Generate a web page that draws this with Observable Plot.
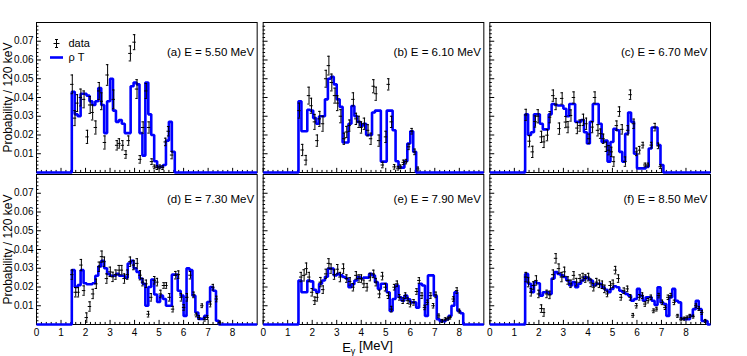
<!DOCTYPE html>
<html><head><meta charset="utf-8">
<script src="https://cdn.jsdelivr.net/npm/d3@7"></script>
<script src="https://cdn.jsdelivr.net/npm/@observablehq/plot@0.6"></script>
<style>html,body{margin:0;padding:0;background:#fff;} #chart{width:747px;height:356px;}</style>
</head><body><div id="chart"></div>
<script>
// ---------- data ----------
const panels = ["a", "b", "c", "d", "e", "f"];
const panelLabels = ["(a) E = 5.50 MeV", "(b) E = 6.10 MeV", "(c) E = 6.70 MeV",
                     "(d) E = 7.30 MeV", "(e) E = 7.90 MeV", "(f) E = 8.50 MeV"];
const panelCol = [0, 1, 2, 0, 1, 2];
const panelRow = [0, 0, 0, 1, 1, 1];
const binStart = 1.44;   // MeV, first non-empty bin edge
const binWidth = 0.12;   // 120 keV
const xMax = 9;
const yMax = 0.08;
const xTicks = [0, 1, 2, 3, 4, 5, 6, 7, 8];
const yTicks = [0.01, 0.02, 0.03, 0.04, 0.05, 0.06, 0.07];
const seriesNames = ["data", "ρ T"];

// rho T histograms (per 120 keV bin, starting at binStart)
const histA = [0.043,0.031,0.030,0.042,0.042,0.041,0.038,0.036,0.038,0.045,0.036,0.021,0.038,0.050,0.033,0.027,0.028,0.026,0.021,0.021,0.046,0.048,0.047,0.021,0.009,0.048,0.031,0.020,0.006,0.003,0.003,0.004,0.017,0.027,0.011];
const histB = [0.038,0.022,0.022,0.0335,0.033,0.029,0.026,0.030,0.030,0.039,0.050,0.051,0.047,0.039,0.035,0.016,0.016,0.026,0.0355,0.030,0.027,0.025,0.026,0.020,0.020,0.032,0.033,0.033,0.0058,0.0058,0.033,0.033,0.0225,0.006,0.0026,0.0026,0.006,0.0155,0.022,0.011];
const histC = [0.031,0.020,0.0215,0.031,0.031,0.026,0.023,0.023,0.031,0.0365,0.036,0.0357,0.0357,0.034,0.030,0.0365,0.0365,0.027,0.027,0.028,0.0215,0.0155,0.027,0.0365,0.0365,0.026,0.0163,0.017,0.0058,0.0163,0.0233,0.0225,0.011,0.0058,0.0207,0.032,0.027,0.010,0.0022,0.0022,0.0022,0.003,0.0128,0.024,0.024,0.0146,0.004];
const histD = [0.029,0.020,0.021,0.029,0.022,0.0215,0.0215,0.022,0.026,0.031,0.034,0.030,0.027,0.026,0.026,0.027,0.026,0.026,0.025,0.0325,0.034,0.030,0.028,0.0245,0.0217,0.010,0.020,0.024,0.016,0.012,0.0154,0.0136,0.010,0.010,0.0266,0.0266,0.018,0.0154,0.0046,0.030,0.029,0.0154,0.0064,0.003,0.003,0.0046,0.012,0.020,0.018,0.002];
const histE = [0.0235,0.0172,0.0172,0.0235,0.023,0.0185,0.0172,0.0217,0.0235,0.0255,0.0298,0.0298,0.0262,0.027,0.0262,0.0253,0.0245,0.0199,0.0215,0.0235,0.0253,0.0245,0.025,0.025,0.027,0.0262,0.0226,0.019,0.0217,0.0217,0.0172,0.0072,0.0136,0.0208,0.0145,0.0127,0.0154,0.0135,0.0118,0.0118,0.009,0.0217,0.0208,0.0046,0.0262,0.0262,0.0154,0.0028,0.0018,0.0018,0.0028,0.0046,0.010,0.0172,0.0072,0.006];
const histF = [0.027,0.0217,0.0172,0.0226,0.022,0.0154,0.0172,0.0172,0.0163,0.0245,0.028,0.027,0.0262,0.0253,0.0235,0.0208,0.0226,0.0199,0.0217,0.0235,0.0253,0.0245,0.0235,0.0208,0.0217,0.0217,0.0199,0.0185,0.0172,0.019,0.0204,0.0199,0.018,0.0172,0.0163,0.0154,0.0127,0.0136,0.019,0.0154,0.0127,0.0145,0.0145,0.0127,0.0104,0.0199,0.0118,0.0109,0.0046,0.0145,0.019,0.0127,0.0118,0.0031,0.0028,0.0028,0.0046,0.0082,0.0127,0.0082,0.0019,0.0019];

// measured data: energies (MeV), probabilities, errors
const dataXA = [1.46,1.57,1.67,1.81,1.94,2.08,2.19,2.29,2.42,2.56,2.66,2.79,2.90,3.15,3.29,3.38,3.52,3.65,3.76,3.83,4.00,4.10,4.23,4.35,4.48,4.59,4.71,4.82,4.93,5.04,5.16,5.27,5.39,5.53];
const dataYA = [0.047,0.029,0.037,0.040,0.039,0.019,0.036,0.032,0.024,0.0435,0.038,0.016,0.052,0.039,0.0145,0.0155,0.0145,0.0096,0.017,0.0635,0.0695,0.0445,0.007,0.024,0.0435,0.024,0.0058,0.003,0.0026,0.003,0.0026,0.0163,0.022,0.0093];
const dataEA = [0.005,0.004,0.0045,0.0045,0.0045,0.0035,0.0045,0.004,0.0035,0.0045,0.0045,0.0035,0.0055,0.005,0.0025,0.0025,0.0025,0.002,0.0025,0.004,0.004,0.005,0.002,0.003,0.004,0.003,0.0015,0.001,0.001,0.001,0.001,0.002,0.0025,0.002];

const dataXB = [1.48,1.61,1.75,1.87,1.97,2.11,2.21,2.31,2.44,2.57,2.68,2.80,2.93,3.04,3.17,3.31,3.41,3.53,3.68,3.80,3.91,4.01,4.13,4.28,4.40,4.51,4.61,4.73,4.88,5.01,5.12,5.24,5.36,5.51,5.61,5.73,5.84,5.95,6.07,6.19,6.32];
const dataYB = [0.033,0.012,0.0066,0.041,0.0356,0.027,0.017,0.0286,0.026,0.050,0.057,0.048,0.041,0.037,0.030,0.018,0.0216,0.025,0.039,0.0286,0.027,0.024,0.026,0.0225,0.018,0.046,0.042,0.017,0.004,0.019,0.047,0.027,0.003,0.0023,0.003,0.0054,0.0058,0.0137,0.022,0.011,0.0019];
const dataEB = [0.004,0.003,0.0025,0.0045,0.004,0.004,0.003,0.004,0.004,0.0045,0.005,0.0045,0.004,0.004,0.0035,0.003,0.003,0.003,0.0035,0.003,0.003,0.003,0.003,0.003,0.003,0.0035,0.0035,0.003,0.0015,0.003,0.003,0.003,0.0012,0.001,0.001,0.0012,0.0012,0.0015,0.0015,0.0015,0.001];

const dataXC = [1.48,1.62,1.75,1.86,1.97,2.11,2.21,2.35,2.46,2.59,2.70,2.84,2.95,3.10,3.19,3.31,3.43,3.57,3.68,3.82,3.94,4.05,4.19,4.29,4.41,4.52,4.64,4.75,4.86,4.97,5.06,5.18,5.29,5.40,5.53,5.64,5.74,5.88,5.99,6.11,6.25,6.34,6.46,6.60,6.74,6.88,6.97];
const dataYC = [0.0307,0.0167,0.011,0.0272,0.030,0.019,0.0163,0.0199,0.0295,0.041,0.0365,0.0234,0.0395,0.0269,0.0242,0.0304,0.040,0.0237,0.025,0.0281,0.026,0.018,0.0242,0.040,0.0225,0.0207,0.018,0.0137,0.0119,0.011,0.0058,0.025,0.0325,0.023,0.0058,0.0225,0.0415,0.026,0.011,0.0119,0.0146,0.004,0.004,0.0146,0.0242,0.0142,0.0031];
const dataEC = [0.003,0.003,0.003,0.003,0.0035,0.003,0.003,0.003,0.003,0.003,0.003,0.003,0.003,0.003,0.003,0.003,0.003,0.003,0.003,0.003,0.003,0.0025,0.003,0.003,0.003,0.0025,0.0025,0.0025,0.0025,0.0025,0.0025,0.0025,0.0025,0.0025,0.0025,0.0025,0.0025,0.0025,0.002,0.002,0.0015,0.001,0.001,0.0015,0.002,0.0015,0.001];

const dataXD = [1.46,1.60,1.71,1.83,1.94,2.05,2.18,2.31,2.44,2.56,2.67,2.77,2.87,3.01,3.12,3.24,3.37,3.48,3.59,3.72,3.83,3.97,4.11,4.24,4.34,4.48,4.57,4.68,4.82,4.93,5.07,5.20,5.30,5.43,5.57,5.68,5.80,5.91,6.02,6.15,6.28,6.42,6.53,6.64,6.76,6.87,6.98,7.10,7.21,7.35,7.49];
const dataYD = [0.0266,0.0172,0.0172,0.0317,0.0181,0.0037,0.0096,0.0163,0.0217,0.0308,0.0362,0.0335,0.0245,0.0281,0.0254,0.0266,0.029,0.029,0.0245,0.0266,0.0335,0.0317,0.0326,0.0263,0.0226,0.0217,0.0055,0.0145,0.0236,0.0226,0.0163,0.0208,0.0208,0.0145,0.0082,0.0263,0.0266,0.0145,0.0091,0.0145,0.0263,0.0158,0.0051,0.0037,0.010,0.0028,0.0037,0.0109,0.0199,0.0136,0.001];
const dataED = [0.0025,0.0025,0.0025,0.003,0.0025,0.0025,0.0025,0.0025,0.0025,0.0025,0.003,0.0025,0.0025,0.0025,0.0025,0.0025,0.0025,0.0025,0.0025,0.0025,0.0025,0.0025,0.0025,0.0025,0.002,0.002,0.0015,0.002,0.002,0.002,0.002,0.0015,0.0015,0.002,0.0015,0.002,0.002,0.002,0.0015,0.002,0.002,0.0015,0.001,0.001,0.001,0.001,0.001,0.0015,0.0015,0.0015,0.0008];

const dataXE = [1.55,1.67,1.77,1.88,2.00,2.11,2.21,2.35,2.45,2.57,2.68,2.77,2.91,3.04,3.15,3.28,3.41,3.55,3.68,3.80,3.91,4.01,4.11,4.24,4.37,4.51,4.61,4.75,4.87,4.99,5.11,5.24,5.36,5.47,5.57,5.71,5.81,5.91,6.01,6.15,6.27,6.37,6.48,6.60,6.71,6.84,6.95,7.05,7.17,7.31,7.44,7.55,7.64,7.77,7.91,8.01];
const dataYE = [0.0253,0.0262,0.0298,0.0253,0.0172,0.0127,0.0145,0.0226,0.0186,0.027,0.0326,0.0298,0.0266,0.0295,0.0253,0.0298,0.0245,0.023,0.0199,0.0262,0.0245,0.0245,0.0217,0.0199,0.0253,0.027,0.0226,0.0163,0.0258,0.0199,0.0154,0.0082,0.0199,0.0217,0.0145,0.0127,0.0154,0.0127,0.0109,0.0118,0.0176,0.0235,0.0154,0.0091,0.0118,0.0154,0.010,0.0158,0.0046,0.0019,0.0028,0.0031,0.0037,0.0136,0.0181,0.0072];
const dataEE = [0.0025,0.003,0.003,0.0025,0.002,0.002,0.002,0.0025,0.002,0.0025,0.0025,0.0025,0.0025,0.0025,0.0025,0.0025,0.002,0.002,0.002,0.002,0.002,0.002,0.002,0.002,0.002,0.002,0.002,0.002,0.002,0.002,0.0015,0.0015,0.0015,0.0015,0.0015,0.0015,0.0015,0.0015,0.0015,0.0015,0.0015,0.0015,0.0015,0.0012,0.0012,0.0015,0.0012,0.0015,0.001,0.0008,0.0008,0.0008,0.0008,0.0012,0.0015,0.001];

const dataXF = [1.48,1.58,1.69,1.79,1.90,2.00,2.11,2.21,2.33,2.45,2.59,2.70,2.82,2.94,3.05,3.19,3.31,3.43,3.54,3.68,3.80,3.91,4.03,4.13,4.24,4.36,4.47,4.59,4.69,4.80,4.92,5.03,5.13,5.25,5.36,5.48,5.62,5.74,5.85,5.99,6.11,6.23,6.34,6.46,6.58,6.69,6.81,6.90,7.04,7.16,7.28,7.39,7.53,7.67,7.81,7.93,8.05,8.17,8.31,8.42,8.54,8.66,8.80];
const dataYF = [0.0253,0.0226,0.0172,0.0208,0.0235,0.0163,0.0085,0.0064,0.0163,0.0158,0.0266,0.0353,0.0298,0.0253,0.0281,0.0235,0.0217,0.0262,0.0226,0.0245,0.0253,0.0245,0.0253,0.0222,0.0199,0.0226,0.0217,0.0212,0.019,0.0163,0.0208,0.0217,0.029,0.0245,0.0145,0.018,0.019,0.0145,0.0049,0.010,0.0145,0.0154,0.0109,0.0127,0.0145,0.0073,0.0082,0.0154,0.0118,0.009,0.0145,0.0154,0.0118,0.0046,0.0028,0.0031,0.0037,0.0046,0.0042,0.010,0.0085,0.0064,0.0019];
const dataEF = [0.0025,0.0025,0.002,0.002,0.0025,0.002,0.002,0.002,0.002,0.002,0.0025,0.0025,0.0025,0.0025,0.0025,0.002,0.002,0.002,0.002,0.002,0.002,0.002,0.002,0.002,0.002,0.002,0.002,0.002,0.002,0.0015,0.002,0.002,0.002,0.002,0.0015,0.0015,0.0015,0.0015,0.001,0.0012,0.0015,0.0015,0.0012,0.0012,0.0012,0.001,0.001,0.0012,0.0012,0.001,0.0012,0.0012,0.0012,0.0008,0.0008,0.0008,0.0008,0.0008,0.0008,0.001,0.001,0.001,0.0008];

// ---------- build tables ----------
const hists = [histA, histB, histC, histD, histE, histF];
const dataX = [dataXA, dataXB, dataXC, dataXD, dataXE, dataXF];
const dataY = [dataYA, dataYB, dataYC, dataYD, dataYE, dataYF];
const dataE = [dataEA, dataEB, dataEC, dataED, dataEE, dataEF];

const histPts = [];
const pts = [];
const labels = [];
panels.forEach((p, k) => {
  const base = {panel: p, col: panelCol[k], row: panelRow[k]};
  const h = hists[k];
  histPts.push({...base, x: 0, y: 0});
  h.forEach((v, i) => histPts.push({...base, x: binStart + i * binWidth, y: v}));
  histPts.push({...base, x: binStart + h.length * binWidth, y: 0});
  histPts.push({...base, x: xMax, y: 0});
  dataX[k].forEach((x, i) => pts.push({...base, x, y: dataY[k][i], e: dataE[k][i]}));
  labels.push({...base, text: panelLabels[k]});
});
const xMinor = d3.range(0, xMax + 1e-9, 0.2).filter(v => Math.abs(v - Math.round(v)) > 1e-6);
const yMinor = d3.range(0.002, yMax - 1e-9, 0.002).filter(v => Math.abs(v * 100 - Math.round(v * 100)) > 1e-6);
const firstPanel = [{col: 0, row: 0}];
const leftPanels = [{col: 0, row: 0}, {col: 0, row: 1}];
const centerBottom = [{col: 1, row: 1}];

const BLUE = "#0000ff";
const crossSymbol = {draw(ctx) { ctx.moveTo(-3, 0); ctx.lineTo(3, 0); ctx.moveTo(0, -4); ctx.lineTo(0, 4);
  ctx.moveTo(-1.5, -4); ctx.lineTo(1.5, -4); ctx.moveTo(-1.5, 4); ctx.lineTo(1.5, 4); }};
const lineSymbol = {draw(ctx) { ctx.moveTo(-6.5, 0); ctx.lineTo(6.5, 0); }};
const fc = {fx: "col", fy: "row"};
const xHalf = 0.07, capHalf = 0.05;

const chart = Plot.plot({
  width: 747, height: 356,
  marginLeft: 36, marginRight: 37, marginTop: 22, marginBottom: 32,
  style: {fontFamily: "'Liberation Sans', Arial, Helvetica, sans-serif", fontSize: "10px", background: "#fff", color: "#000"},
  x: {domain: [0, xMax]},
  y: {domain: [0, yMax]},
  fx: {domain: [0, 1, 2], paddingInner: 0.0265, paddingOuter: 0, axis: null, round: false},
  fy: {domain: [0, 1], paddingInner: 0.0132, paddingOuter: 0, axis: null, round: false},
  marks: [
    // inward ticks
    Plot.ruleX(xTicks, {x: d => d, y1: 0, y2: 0.0022, stroke: "#000", strokeWidth: 1}),
    Plot.ruleX(xMinor, {x: d => d, y1: 0, y2: 0.0011, stroke: "#000", strokeWidth: 1}),
    Plot.ruleY(yTicks, {y: d => d, x1: 0, x2: 0.2, stroke: "#000", strokeWidth: 1}),
    Plot.ruleY(yMinor, {y: d => d, x1: 0, x2: 0.1, stroke: "#000", strokeWidth: 1}),
    Plot.frame({stroke: "#000", strokeWidth: 1}),
    // histogram
    Plot.line(histPts, {x: "x", y: "y", z: "panel", ...fc, curve: "step-after", stroke: BLUE, strokeWidth: 2.6, strokeLinejoin: "miter", strokeLinecap: "butt"}),
    // data with error bars
    Plot.ruleX(pts, {x: "x", y1: d => d.y - d.e, y2: d => d.y + d.e, ...fc, stroke: "#000", strokeWidth: 1}),
    Plot.ruleY(pts, {y: "y", x1: d => d.x - xHalf, x2: d => d.x + xHalf, ...fc, stroke: "#000", strokeWidth: 1}),
    Plot.ruleY(pts, {y: d => d.y + d.e, x1: d => d.x - capHalf, x2: d => d.x + capHalf, ...fc, stroke: "#000", strokeWidth: 1}),
    Plot.ruleY(pts, {y: d => d.y - d.e, x1: d => d.x - capHalf, x2: d => d.x + capHalf, ...fc, stroke: "#000", strokeWidth: 1}),
    // axes
    Plot.axisX(xTicks, {tickSize: 0, tickPadding: 4, fontSize: 10, label: null}),
    Plot.axisY(yTicks, {tickSize: 0, tickPadding: 3, fontSize: 10, label: null, tickFormat: d => d.toFixed(2)}),
    // panel labels
    Plot.text(labels.filter(d => d.row === 0), {...fc, text: "text", frameAnchor: "top-right", dx: -3, dy: 30, textAnchor: "end", lineAnchor: "middle", fontSize: 11.5}),
    Plot.text(labels.filter(d => d.row === 1), {...fc, text: "text", frameAnchor: "top-right", dx: -3, dy: 25, textAnchor: "end", lineAnchor: "middle", fontSize: 11.5}),
    // legend
    Plot.dot(firstPanel, {...fc, frameAnchor: "top-left", dx: 20, dy: 21, symbol: crossSymbol, stroke: "#000", fill: "none", strokeWidth: 1}),
    Plot.dot(firstPanel, {...fc, frameAnchor: "top-left", dx: 20, dy: 35, symbol: lineSymbol, stroke: BLUE, fill: "none", strokeWidth: 2.6}),
    Plot.text(firstPanel, {...fc, text: () => seriesNames[0], frameAnchor: "top-left", dx: 32, dy: 21, textAnchor: "start", lineAnchor: "middle", fontSize: 11}),
    Plot.text(firstPanel, {...fc, text: () => seriesNames[1], frameAnchor: "top-left", dx: 32, dy: 35, textAnchor: "start", lineAnchor: "middle", fontSize: 11}),
    // axis titles
    Plot.text(leftPanels, {...fc, text: () => "Probability / 120 keV", frameAnchor: "left", dx: -28, rotate: -90, textAnchor: "middle", lineAnchor: "middle", fontSize: 12}),
    Plot.text(centerBottom, {...fc, text: () => "Eγ [MeV]", frameAnchor: "bottom", dx: -6, dy: 23, textAnchor: "middle", lineAnchor: "middle", fontSize: 13})
  ]
});
document.getElementById("chart").appendChild(chart);

// subscript gamma in the x-axis title
d3.select(chart).selectAll("text").filter(function() { return this.textContent === "Eγ [MeV]"; })
  .each(function() {
    const t = d3.select(this);
    t.text(null);
    t.append("tspan").text("E");
    t.append("tspan").attr("dy", "0.3em").attr("font-size", "9px").text("γ");
    t.append("tspan").attr("dy", "-0.3em").text(" [MeV]");
  });
</script>
</body></html>
